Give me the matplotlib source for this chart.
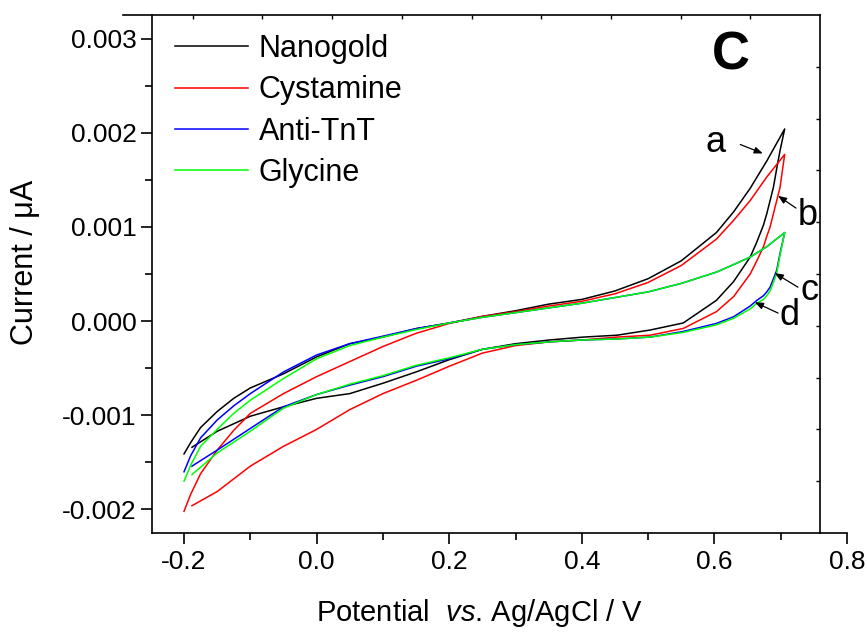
import numpy as np
import matplotlib
matplotlib.use('Agg')
import matplotlib.pyplot as plt

plt.rcParams['font.family'] = ['Liberation Sans', 'DejaVu Sans']
plt.rcParams['mathtext.fontset'] = 'custom'
plt.rcParams['mathtext.rm'] = 'Liberation Sans'
plt.rcParams['mathtext.it'] = 'Liberation Sans:italic'

# forward scan (upper branch), x increasing
x_up = [-0.2, -0.19, -0.175, -0.15, -0.125, -0.1, -0.05, 0.0, 0.05, 0.1, 0.15, 0.2, 0.25,
        0.3, 0.35, 0.4, 0.45, 0.5, 0.55, 0.603, 0.629, 0.654, 0.679, 0.706]
nanogold_up = [-0.00141, -0.00129, -0.00113, -0.00096, -0.00082, -0.00071, -0.00056,
               -0.00038, -0.00024, -0.00017, -0.00008, -0.00002, 0.00005, 0.00011,
               0.00018, 0.00023, 0.00032, 0.00045, 0.00064, 0.00094, 0.00116, 0.00141,
               0.0017, 0.00204]
cystamine_up = [-0.00202, -0.00184, -0.00162, -0.00137, -0.00116, -0.00098, -0.00077,
                -0.00059, -0.00043, -0.00027, -0.00013, -0.000025, 0.00005, 0.0001,
                0.00016, 0.00021, 0.00029, 0.00041, 0.00059, 0.00087, 0.00107, 0.00128,
                0.00153, 0.00177]
antitnt_up = [-0.0016, -0.00143, -0.00124, -0.00105, -0.0009, -0.00077, -0.00054,
              -0.00036, -0.00024, -0.00016, -0.00008, -0.00002, 0.00004, 0.00009,
              0.00014, 0.00019, 0.00025, 0.00031, 0.0004, 0.00052, 0.0006, 0.00068,
              0.00079, 0.00094]
glycine_up = [-0.0017, -0.00153, -0.00133, -0.00115, -0.00098, -0.00084, -0.00061,
              -0.0004, -0.00026, -0.00017, -0.00009, -0.00002, 0.00004, 0.00009,
              0.00014, 0.00019, 0.00025, 0.00031, 0.0004, 0.00052, 0.0006, 0.00068,
              0.00079, 0.00094]

# reverse scan (lower branch), x decreasing
x_down = [0.706, 0.699, 0.694, 0.689, 0.684, 0.679, 0.674, 0.664, 0.654, 0.629, 0.603,
          0.553, 0.503, 0.453, 0.402, 0.352, 0.3, 0.25, 0.2, 0.15, 0.1, 0.05, 0.0,
          -0.05, -0.1, -0.15, -0.188]
nanogold_down = [0.00204, 0.00181, 0.00162, 0.00142, 0.00128, 0.00114, 0.00102, 0.00084,
                 0.00068, 0.00042, 0.00022, -0.00002, -0.000095, -0.00015, -0.00017,
                 -0.0002, -0.00024, -0.0003, -0.00041, -0.00054, -0.00066, -0.00077,
                 -0.00082, -0.00091, -0.00101, -0.00117, -0.00134]
cystamine_down = [0.00177, 0.00142, 0.00128, 0.00114, 0.001, 0.0009, 0.00079, 0.00064,
                  0.0005, 0.00026, 0.0001, -0.000078, -0.00015, -0.00017, -0.0002,
                  -0.00022, -0.00026, -0.00034, -0.00048, -0.00063, -0.00077, -0.00094,
                  -0.00115, -0.00133, -0.00154, -0.00181, -0.00196]
antitnt_down = [0.00094, 0.00072, 0.00054, 0.00045, 0.00036, 0.00031, 0.00027, 0.00022,
                0.00016, 0.000046, -0.000025, -0.00011, -0.00017, -0.00019, -0.0002,
                -0.00022, -0.00025, -0.0003, -0.0004, -0.00048, -0.00059, -0.00068,
                -0.00078, -0.00091, -0.00114, -0.00137, -0.00154]
glycine_down = [0.00094, 0.0007, 0.00051, 0.00041, 0.00032, 0.00027, 0.00023, 0.00019,
                0.00013, 0.00003, -0.00004, -0.00012, -0.00017, -0.00019, -0.0002,
                -0.00022, -0.00025, -0.0003, -0.00039, -0.00047, -0.00058, -0.00067,
                -0.00078, -0.000925, -0.00117, -0.0014, -0.00163]

labels = ['Nanogold', 'Cystamine', 'Anti-TnT', 'Glycine']
colors = ['black', '#ff0000', '#0000ff', '#00ff00']
ups = [nanogold_up, cystamine_up, antitnt_up, glycine_up]
downs = [nanogold_down, cystamine_down, antitnt_down, glycine_down]

W, H = 867, 637
fig = plt.figure(figsize=(W / 100, H / 100), dpi=100)

# outer frame layer (top + right axes, unlabeled)
frame = fig.add_axes([123 / W, 104 / H, 697 / W, 518 / H])
frame.set_xlim(0, 10)
frame.set_ylim(0, 10)
frame.patch.set_alpha(0)
for s in ['left', 'bottom']:
    frame.spines[s].set_visible(False)
for s in ['top', 'right']:
    frame.spines[s].set_linewidth(1.2)
frame.set_xticks(range(1, 10))
frame.set_yticks(range(1, 10))
frame.tick_params(direction='in', length=3, width=1, bottom=False, left=False,
                  top=True, right=True, labelbottom=False, labelleft=False)

# main data layer
ax = fig.add_axes([152 / W, 104 / H, 695 / W, 518 / H])
ax.patch.set_alpha(0)
for lab, c, yu, yd in zip(labels, colors, ups, downs):
    ax.plot(list(x_up) + list(x_down), list(yu) + list(yd), color=c, lw=1.1, label=lab)

ax.set_xlim(-0.2483, 0.8)
ax.set_ylim(-0.00225, 0.00325)
ax.spines['top'].set_visible(False)
ax.spines['right'].set_visible(False)
for s in ['left', 'bottom']:
    ax.spines[s].set_linewidth(1.2)
ax.set_xticks([-0.2, 0.0, 0.2, 0.4, 0.6, 0.8])
ax.set_xticks([-0.1, 0.1, 0.3, 0.5, 0.7], minor=True)
ax.set_yticks([-0.002, -0.001, 0.0, 0.001, 0.002, 0.003])
ax.set_yticks([-0.0015, -0.0005, 0.0005, 0.0015, 0.0025], minor=True)
ax.set_xticklabels(['-0.2', '0.0', '0.2', '0.4', '0.6', '0.8'])
ax.set_yticklabels(['-0.002', '-0.001', '0.000', '0.001', '0.002', '0.003'])
ax.tick_params(which='major', direction='out', length=8, width=1.2, labelsize=19)
ax.tick_params(axis='x', which='major', pad=4)
ax.tick_params(axis='y', which='major', pad=3)
ax.tick_params(which='minor', direction='out', length=5, width=1.2)

fig.text(480 / W, 1 - 613 / H, r'Potential  $\it{vs}$. Ag/AgCl / V', fontsize=21,
         ha='center', va='center')
fig.text(25 / W, 1 - 262 / H, 'Current / μA', fontsize=22, rotation=90,
         ha='center', va='center')

ax.legend(loc='upper left', bbox_to_anchor=(0.033, 0.963), frameon=False, fontsize=22,
          handlelength=2.4, handletextpad=0.35, labelspacing=0.37, borderpad=0,
          borderaxespad=0)

fig.text(731 / W, 1 - 56 / H, 'C', fontsize=38, fontweight='bold', ha='center', va='center')

arrow = dict(arrowstyle='-|>,head_length=0.5,head_width=0.2', color='black', lw=0.9,
             shrinkA=0, shrinkB=0)
ax.annotate('', xy=(0.673, 0.00178), xytext=(0.639, 0.001875), arrowprops=arrow)
ax.annotate('', xy=(0.696, 0.00133), xytext=(0.723, 0.0012), arrowprops=arrow)
ax.annotate('', xy=(0.691, 0.00051), xytext=(0.726, 0.00036), arrowprops=arrow)
ax.annotate('', xy=(0.661, 0.0002), xytext=(0.696, 0.000085), arrowprops=arrow)
ax.text(0.602, 0.0019, 'a', fontsize=26, ha='center', va='center')
ax.text(0.741, 0.00112, 'b', fontsize=26, ha='center', va='center')
ax.text(0.744, 0.00033, 'c', fontsize=26, ha='center', va='center')
ax.text(0.714, 0.00006, 'd', fontsize=26, ha='center', va='center')

fig.savefig('out.png', dpi=100)
